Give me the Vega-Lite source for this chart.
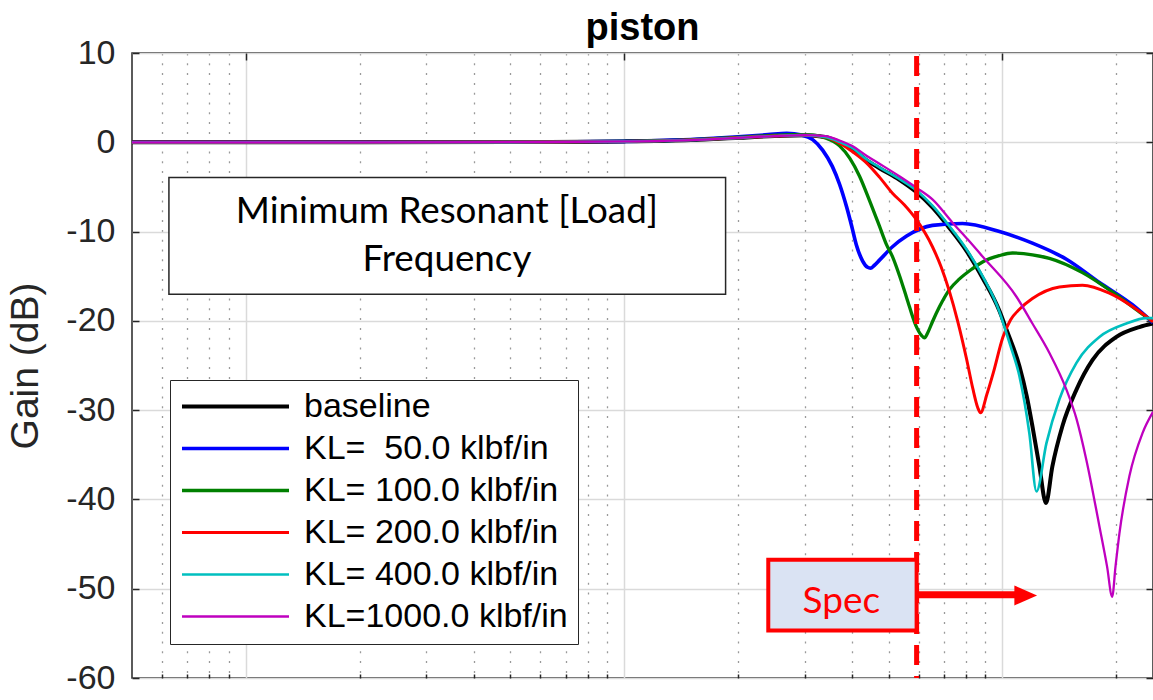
{
  "$schema": "https://vega.github.io/schema/vega-lite/v6.json",
  "width": 1021,
  "height": 625,
  "autosize": {"type": "none"},
  "padding": {"left": 132, "top": 53, "right": 0, "bottom": 22},
  "background": "white",
  "title": {"text": "piston", "font": "Liberation Sans", "fontSize": 38, "fontWeight": "bold", "color": "#000000", "offset": -12, "anchor": "middle"},
  "config": {"view": {"stroke": "#262626", "strokeWidth": 1.5}, "font": "Liberation Sans"},
  "layer": [
    {
      "data": {"values": [
        {"s": "baseline", "f": 5, "g": 0}, {"s": "baseline", "f": 20, "g": 0}, {"s": "baseline", "f": 50, "g": 0.02}, {"s": "baseline", "f": 100, "g": 0.1}, {"s": "baseline", "f": 150, "g": 0.25}, {"s": "baseline", "f": 200, "g": 0.5}, {"s": "baseline", "f": 250, "g": 0.7}, {"s": "baseline", "f": 300, "g": 0.8}, {"s": "baseline", "f": 340, "g": 0.6}, {"s": "baseline", "f": 371, "g": 0.0}, {"s": "baseline", "f": 400, "g": -0.7}, {"s": "baseline", "f": 437, "g": -2.0}, {"s": "baseline", "f": 473, "g": -2.9}, {"s": "baseline", "f": 534, "g": -4.2}, {"s": "baseline", "f": 593, "g": -5.6}, {"s": "baseline", "f": 653, "g": -7.3}, {"s": "baseline", "f": 724, "g": -9.6}, {"s": "baseline", "f": 804, "g": -12.2}, {"s": "baseline", "f": 886, "g": -15.2}, {"s": "baseline", "f": 982, "g": -18.9}, {"s": "baseline", "f": 1025, "g": -21.0}, {"s": "baseline", "f": 1109, "g": -25.1}, {"s": "baseline", "f": 1160, "g": -28.5}, {"s": "baseline", "f": 1200, "g": -31.8}, {"s": "baseline", "f": 1252, "g": -36.3}, {"s": "baseline", "f": 1303, "g": -40.4}, {"s": "baseline", "f": 1355, "g": -36.3}, {"s": "baseline", "f": 1440, "g": -31.8}, {"s": "baseline", "f": 1569, "g": -27.7}, {"s": "baseline", "f": 1729, "g": -24.4}, {"s": "baseline", "f": 2001, "g": -21.8}, {"s": "baseline", "f": 2301, "g": -20.7}, {"s": "baseline", "f": 2500, "g": -20.3},

        {"s": "KL=\u00a0\u00a050.0 klbf/in", "f": 5, "g": 0}, {"s": "KL=\u00a0\u00a050.0 klbf/in", "f": 20, "g": 0}, {"s": "KL=\u00a0\u00a050.0 klbf/in", "f": 50, "g": 0.02}, {"s": "KL=\u00a0\u00a050.0 klbf/in", "f": 100, "g": 0.1}, {"s": "KL=\u00a0\u00a050.0 klbf/in", "f": 150, "g": 0.3}, {"s": "KL=\u00a0\u00a050.0 klbf/in", "f": 200, "g": 0.6}, {"s": "KL=\u00a0\u00a050.0 klbf/in", "f": 240, "g": 0.85}, {"s": "KL=\u00a0\u00a050.0 klbf/in", "f": 269, "g": 1.0}, {"s": "KL=\u00a0\u00a050.0 klbf/in", "f": 295, "g": 0.8}, {"s": "KL=\u00a0\u00a050.0 klbf/in", "f": 315, "g": 0.3}, {"s": "KL=\u00a0\u00a050.0 klbf/in", "f": 335, "g": -0.9}, {"s": "KL=\u00a0\u00a050.0 klbf/in", "f": 355, "g": -2.7}, {"s": "KL=\u00a0\u00a050.0 klbf/in", "f": 371, "g": -4.7}, {"s": "KL=\u00a0\u00a050.0 klbf/in", "f": 387, "g": -7.2}, {"s": "KL=\u00a0\u00a050.0 klbf/in", "f": 400, "g": -9.5}, {"s": "KL=\u00a0\u00a050.0 klbf/in", "f": 411, "g": -11.5}, {"s": "KL=\u00a0\u00a050.0 klbf/in", "f": 427, "g": -13.3}, {"s": "KL=\u00a0\u00a050.0 klbf/in", "f": 440, "g": -14.0}, {"s": "KL=\u00a0\u00a050.0 klbf/in", "f": 448, "g": -14.1}, {"s": "KL=\u00a0\u00a050.0 klbf/in", "f": 458, "g": -13.8}, {"s": "KL=\u00a0\u00a050.0 klbf/in", "f": 473, "g": -13.2}, {"s": "KL=\u00a0\u00a050.0 klbf/in", "f": 512, "g": -11.7}, {"s": "KL=\u00a0\u00a050.0 klbf/in", "f": 558, "g": -10.5}, {"s": "KL=\u00a0\u00a050.0 klbf/in", "f": 653, "g": -9.3}, {"s": "KL=\u00a0\u00a050.0 klbf/in", "f": 784, "g": -9.1}, {"s": "KL=\u00a0\u00a050.0 klbf/in", "f": 982, "g": -10.0}, {"s": "KL=\u00a0\u00a050.0 klbf/in", "f": 1200, "g": -11.3}, {"s": "KL=\u00a0\u00a050.0 klbf/in", "f": 1476, "g": -13.1}, {"s": "KL=\u00a0\u00a050.0 klbf/in", "f": 1804, "g": -15.7}, {"s": "KL=\u00a0\u00a050.0 klbf/in", "f": 2205, "g": -18.2}, {"s": "KL=\u00a0\u00a050.0 klbf/in", "f": 2500, "g": -20.2},

        {"s": "KL= 100.0 klbf/in", "f": 5, "g": 0}, {"s": "KL= 100.0 klbf/in", "f": 20, "g": 0}, {"s": "KL= 100.0 klbf/in", "f": 50, "g": 0.02}, {"s": "KL= 100.0 klbf/in", "f": 100, "g": 0.1}, {"s": "KL= 100.0 klbf/in", "f": 150, "g": 0.28}, {"s": "KL= 100.0 klbf/in", "f": 200, "g": 0.55}, {"s": "KL= 100.0 klbf/in", "f": 240, "g": 0.75}, {"s": "KL= 100.0 klbf/in", "f": 280, "g": 0.85}, {"s": "KL= 100.0 klbf/in", "f": 315, "g": 0.8}, {"s": "KL= 100.0 klbf/in", "f": 340, "g": 0.5}, {"s": "KL= 100.0 klbf/in", "f": 371, "g": -0.4}, {"s": "KL= 100.0 klbf/in", "f": 395, "g": -1.8}, {"s": "KL= 100.0 klbf/in", "f": 419, "g": -3.8}, {"s": "KL= 100.0 klbf/in", "f": 445, "g": -6.5}, {"s": "KL= 100.0 klbf/in", "f": 473, "g": -9.4}, {"s": "KL= 100.0 klbf/in", "f": 493, "g": -11.4}, {"s": "KL= 100.0 klbf/in", "f": 512, "g": -12.8}, {"s": "KL= 100.0 klbf/in", "f": 535, "g": -15.0}, {"s": "KL= 100.0 klbf/in", "f": 558, "g": -17.4}, {"s": "KL= 100.0 klbf/in", "f": 590, "g": -20.5}, {"s": "KL= 100.0 klbf/in", "f": 610, "g": -21.6}, {"s": "KL= 100.0 klbf/in", "f": 622, "g": -21.9}, {"s": "KL= 100.0 klbf/in", "f": 635, "g": -21.3}, {"s": "KL= 100.0 klbf/in", "f": 653, "g": -20.1}, {"s": "KL= 100.0 klbf/in", "f": 682, "g": -18.4}, {"s": "KL= 100.0 klbf/in", "f": 724, "g": -16.5}, {"s": "KL= 100.0 klbf/in", "f": 770, "g": -15.3}, {"s": "KL= 100.0 klbf/in", "f": 830, "g": -14.2}, {"s": "KL= 100.0 klbf/in", "f": 886, "g": -13.4}, {"s": "KL= 100.0 klbf/in", "f": 980, "g": -12.7}, {"s": "KL= 100.0 klbf/in", "f": 1063, "g": -12.4}, {"s": "KL= 100.0 klbf/in", "f": 1200, "g": -12.6}, {"s": "KL= 100.0 klbf/in", "f": 1331, "g": -13.0}, {"s": "KL= 100.0 klbf/in", "f": 1627, "g": -14.6}, {"s": "KL= 100.0 klbf/in", "f": 2001, "g": -17.1}, {"s": "KL= 100.0 klbf/in", "f": 2300, "g": -19.0}, {"s": "KL= 100.0 klbf/in", "f": 2500, "g": -20.1},

        {"s": "KL= 200.0 klbf/in", "f": 5, "g": 0}, {"s": "KL= 200.0 klbf/in", "f": 20, "g": 0}, {"s": "KL= 200.0 klbf/in", "f": 50, "g": 0.02}, {"s": "KL= 200.0 klbf/in", "f": 100, "g": 0.1}, {"s": "KL= 200.0 klbf/in", "f": 150, "g": 0.27}, {"s": "KL= 200.0 klbf/in", "f": 200, "g": 0.5}, {"s": "KL= 200.0 klbf/in", "f": 250, "g": 0.7}, {"s": "KL= 200.0 klbf/in", "f": 300, "g": 0.8}, {"s": "KL= 200.0 klbf/in", "f": 340, "g": 0.6}, {"s": "KL= 200.0 klbf/in", "f": 371, "g": -0.1}, {"s": "KL= 200.0 klbf/in", "f": 400, "g": -1.0}, {"s": "KL= 200.0 klbf/in", "f": 437, "g": -2.3}, {"s": "KL= 200.0 klbf/in", "f": 473, "g": -3.9}, {"s": "KL= 200.0 klbf/in", "f": 512, "g": -5.7}, {"s": "KL= 200.0 klbf/in", "f": 550, "g": -7.0}, {"s": "KL= 200.0 klbf/in", "f": 593, "g": -8.7}, {"s": "KL= 200.0 klbf/in", "f": 653, "g": -11.7}, {"s": "KL= 200.0 klbf/in", "f": 689, "g": -14.0}, {"s": "KL= 200.0 klbf/in", "f": 724, "g": -16.7}, {"s": "KL= 200.0 klbf/in", "f": 761, "g": -20.0}, {"s": "KL= 200.0 klbf/in", "f": 804, "g": -24.3}, {"s": "KL= 200.0 klbf/in", "f": 835, "g": -27.6}, {"s": "KL= 200.0 klbf/in", "f": 860, "g": -29.7}, {"s": "KL= 200.0 klbf/in", "f": 875, "g": -30.3}, {"s": "KL= 200.0 klbf/in", "f": 910, "g": -28.2}, {"s": "KL= 200.0 klbf/in", "f": 946, "g": -25.8}, {"s": "KL= 200.0 klbf/in", "f": 1003, "g": -21.8}, {"s": "KL= 200.0 klbf/in", "f": 1050, "g": -19.9}, {"s": "KL= 200.0 klbf/in", "f": 1109, "g": -18.7}, {"s": "KL= 200.0 klbf/in", "f": 1200, "g": -17.5}, {"s": "KL= 200.0 klbf/in", "f": 1414, "g": -16.2}, {"s": "KL= 200.0 klbf/in", "f": 1627, "g": -16.0}, {"s": "KL= 200.0 klbf/in", "f": 1917, "g": -16.9}, {"s": "KL= 200.0 klbf/in", "f": 2205, "g": -18.4}, {"s": "KL= 200.0 klbf/in", "f": 2500, "g": -20.1},

        {"s": "KL= 400.0 klbf/in", "f": 5, "g": 0}, {"s": "KL= 400.0 klbf/in", "f": 20, "g": 0}, {"s": "KL= 400.0 klbf/in", "f": 50, "g": 0.02}, {"s": "KL= 400.0 klbf/in", "f": 100, "g": 0.1}, {"s": "KL= 400.0 klbf/in", "f": 150, "g": 0.25}, {"s": "KL= 400.0 klbf/in", "f": 200, "g": 0.5}, {"s": "KL= 400.0 klbf/in", "f": 250, "g": 0.7}, {"s": "KL= 400.0 klbf/in", "f": 300, "g": 0.8}, {"s": "KL= 400.0 klbf/in", "f": 340, "g": 0.6}, {"s": "KL= 400.0 klbf/in", "f": 371, "g": 0.05}, {"s": "KL= 400.0 klbf/in", "f": 400, "g": -0.6}, {"s": "KL= 400.0 klbf/in", "f": 437, "g": -1.9}, {"s": "KL= 400.0 klbf/in", "f": 473, "g": -2.8}, {"s": "KL= 400.0 klbf/in", "f": 534, "g": -4.1}, {"s": "KL= 400.0 klbf/in", "f": 593, "g": -5.4}, {"s": "KL= 400.0 klbf/in", "f": 653, "g": -7.1}, {"s": "KL= 400.0 klbf/in", "f": 724, "g": -9.4}, {"s": "KL= 400.0 klbf/in", "f": 804, "g": -12.0}, {"s": "KL= 400.0 klbf/in", "f": 886, "g": -15.0}, {"s": "KL= 400.0 klbf/in", "f": 982, "g": -19.0}, {"s": "KL= 400.0 klbf/in", "f": 1000, "g": -20.0}, {"s": "KL= 400.0 klbf/in", "f": 1050, "g": -22.8}, {"s": "KL= 400.0 klbf/in", "f": 1109, "g": -26.2}, {"s": "KL= 400.0 klbf/in", "f": 1178, "g": -32.6}, {"s": "KL= 400.0 klbf/in", "f": 1230, "g": -39.1}, {"s": "KL= 400.0 klbf/in", "f": 1307, "g": -33.7}, {"s": "KL= 400.0 klbf/in", "f": 1414, "g": -28.8}, {"s": "KL= 400.0 klbf/in", "f": 1569, "g": -24.7}, {"s": "KL= 400.0 klbf/in", "f": 1804, "g": -21.8}, {"s": "KL= 400.0 klbf/in", "f": 2126, "g": -20.3}, {"s": "KL= 400.0 klbf/in", "f": 2402, "g": -19.7}, {"s": "KL= 400.0 klbf/in", "f": 2500, "g": -19.7},

        {"s": "KL=1000.0 klbf/in", "f": 5, "g": 0}, {"s": "KL=1000.0 klbf/in", "f": 20, "g": 0}, {"s": "KL=1000.0 klbf/in", "f": 50, "g": 0.02}, {"s": "KL=1000.0 klbf/in", "f": 100, "g": 0.1}, {"s": "KL=1000.0 klbf/in", "f": 150, "g": 0.25}, {"s": "KL=1000.0 klbf/in", "f": 200, "g": 0.5}, {"s": "KL=1000.0 klbf/in", "f": 250, "g": 0.7}, {"s": "KL=1000.0 klbf/in", "f": 300, "g": 0.8}, {"s": "KL=1000.0 klbf/in", "f": 340, "g": 0.7}, {"s": "KL=1000.0 klbf/in", "f": 371, "g": 0.2}, {"s": "KL=1000.0 klbf/in", "f": 400, "g": -0.4}, {"s": "KL=1000.0 klbf/in", "f": 437, "g": -1.5}, {"s": "KL=1000.0 klbf/in", "f": 473, "g": -2.4}, {"s": "KL=1000.0 klbf/in", "f": 534, "g": -3.8}, {"s": "KL=1000.0 klbf/in", "f": 593, "g": -5.1}, {"s": "KL=1000.0 klbf/in", "f": 653, "g": -6.4}, {"s": "KL=1000.0 klbf/in", "f": 738, "g": -9.0}, {"s": "KL=1000.0 klbf/in", "f": 810, "g": -10.9}, {"s": "KL=1000.0 klbf/in", "f": 886, "g": -12.8}, {"s": "KL=1000.0 klbf/in", "f": 1089, "g": -17.3}, {"s": "KL=1000.0 klbf/in", "f": 1200, "g": -20.3}, {"s": "KL=1000.0 klbf/in", "f": 1331, "g": -23.6}, {"s": "KL=1000.0 klbf/in", "f": 1476, "g": -27.7}, {"s": "KL=1000.0 klbf/in", "f": 1570, "g": -31.0}, {"s": "KL=1000.0 klbf/in", "f": 1667, "g": -35.6}, {"s": "KL=1000.0 klbf/in", "f": 1804, "g": -43.0}, {"s": "KL=1000.0 klbf/in", "f": 1890, "g": -47.5}, {"s": "KL=1000.0 klbf/in", "f": 1950, "g": -50.9}, {"s": "KL=1000.0 klbf/in", "f": 1990, "g": -47.5}, {"s": "KL=1000.0 klbf/in", "f": 2038, "g": -43.8}, {"s": "KL=1000.0 klbf/in", "f": 2165, "g": -37.4}, {"s": "KL=1000.0 klbf/in", "f": 2344, "g": -32.6}, {"s": "KL=1000.0 klbf/in", "f": 2500, "g": -30.2}
      ]},
      "mark": {"type": "line", "clip": true, "interpolate": "monotone"},
      "encoding": {
        "x": {"field": "f", "type": "quantitative", "scale": {"type": "log", "domain": [5, 2500], "nice": false},
              "axis": {"orient": "bottom", "title": null, "labels": false, "domain": false, "values": [6, 7, 8, 9, 20, 30, 40, 50, 60, 70, 80, 90, 200, 300, 400, 500, 600, 700, 800, 900, 2000],
                       "grid": true, "gridDash": [2, 7.8], "gridColor": "#9a9a9a", "gridWidth": 1.3, "ticks": true, "tickSize": -4, "tickColor": "#262626", "tickWidth": 1.5}},
        "y": {"field": "g", "type": "quantitative", "scale": {"domain": [-60, 10], "nice": false},
              "axis": {"orient": "left", "values": [-60, -50, -40, -30, -20, -10, 0, 10], "labelExpr": "'' + datum.value", "title": "Gain (dB)", "titleFont": "Liberation Sans", "titleFontSize": 39, "titleFontWeight": "normal", "titleColor": "#262626", "titlePadding": 20,
                       "labelFont": "Liberation Sans", "labelFontSize": 34, "labelColor": "#262626", "labelPadding": 24, "labelFlush": false, "labelOverlap": false,
                       "tickSize": -7, "tickColor": "#262626", "tickWidth": 1.5, "grid": true, "gridColor": "#dadada", "gridWidth": 1.5, "domain": false}},
        "color": {"field": "s", "type": "nominal",
                  "scale": {"domain": ["baseline", "KL=\u00a0\u00a050.0 klbf/in", "KL= 100.0 klbf/in", "KL= 200.0 klbf/in", "KL= 400.0 klbf/in", "KL=1000.0 klbf/in"], "range": ["#000000", "#0000ff", "#008000", "#ff0000", "#00bfbf", "#bf00bf"]},
                  "legend": {"title": null, "orient": "none", "legendX": 38, "legendY": 327, "direction": "vertical", "symbolType": "stroke", "symbolSize": 11449, "symbolStrokeWidth": 2.5, "clipHeight": 33,
                             "labelFont": "Liberation Sans", "labelFontSize": 34, "labelColor": "#000000", "labelOffset": 13, "labelLimit": 0, "rowPadding": 7, "padding": 10,
                             "strokeColor": "#262626", "fillColor": "white"}},
        "strokeWidth": {"field": "s", "type": "nominal",
                        "scale": {"domain": ["baseline", "KL=\u00a0\u00a050.0 klbf/in", "KL= 100.0 klbf/in", "KL= 200.0 klbf/in", "KL= 400.0 klbf/in", "KL=1000.0 klbf/in"], "range": [4, 2.3, 2.3, 2.3, 2.3, 2.3]},
                        "legend": null}
      }
    },
    {
      "data": {"values": [{}]},
      "mark": {"type": "rect", "fill": "white", "stroke": "#262626", "strokeWidth": 1.5},
      "encoding": {
        "x": {"datum": 6.26, "type": "quantitative", "axis": null},
        "x2": {"datum": 185.4},
        "y": {"datum": -3.94, "type": "quantitative", "axis": null},
        "y2": {"datum": -17.02}
      }
    },
    {
      "data": {"values": [{}]},
      "mark": {"type": "text", "text": ["Minimum Resonant [Load]", "Frequency"], "font": "Lato", "fontSize": 36.8, "color": "#000000", "align": "center", "baseline": "middle", "lineHeight": 48},
      "encoding": {
        "x": {"datum": 34, "type": "quantitative", "axis": null},
        "y": {"datum": -7.8, "type": "quantitative", "axis": null}
      }
    },
    {
      "data": {"values": [{}]},
      "mark": {"type": "rule", "color": "#ff0000", "strokeWidth": 5, "strokeDash": [20, 11], "strokeDashOffset": -3},
      "encoding": {
        "x": {"datum": 593, "type": "quantitative",
              "axis": {"orient": "top", "title": null, "labels": false, "domain": false, "values": [10, 100, 1000], "grid": true, "gridColor": "#dadada", "gridWidth": 1.5,
                       "ticks": true, "tickSize": -7, "tickColor": "#262626", "tickWidth": 1.5}}
      }
    },
    {
      "data": {"values": [{}]},
      "mark": {"type": "rect", "fill": "#dae3f3", "stroke": "#ff0000", "strokeWidth": 4},
      "encoding": {
        "x": {"datum": 240.4, "type": "quantitative", "axis": null},
        "x2": {"datum": 593},
        "y": {"datum": -46.75, "type": "quantitative",
              "axis": {"orient": "right", "title": null, "labels": false, "domain": false, "grid": false, "values": [-60, -50, -40, -30, -20, -10, 0, 10],
                       "ticks": true, "tickSize": -7, "tickColor": "#262626", "tickWidth": 1.5}},
        "y2": {"datum": -54.67}
      }
    },
    {
      "data": {"values": [{}]},
      "mark": {"type": "text", "text": "Spec", "font": "Lato", "fontSize": 37, "color": "#ff0000", "align": "center", "baseline": "middle"},
      "encoding": {
        "x": {"datum": 375, "type": "quantitative", "axis": null},
        "y": {"datum": -51.5, "type": "quantitative", "axis": null}
      }
    },
    {
      "data": {"values": [{}]},
      "mark": {"type": "rule", "color": "#ff0000", "strokeWidth": 7},
      "encoding": {
        "x": {"datum": 593, "type": "quantitative", "axis": null},
        "x2": {"datum": 1100},
        "y": {"datum": -50.67, "type": "quantitative", "axis": null}
      }
    },
    {
      "data": {"values": [{}]},
      "mark": {"type": "point", "shape": "M-1,-0.88L1,0L-1,0.88Z", "size": 515, "filled": true, "fill": "#ff0000", "opacity": 1, "strokeWidth": 0},
      "encoding": {
        "x": {"datum": 1152, "type": "quantitative", "axis": null},
        "y": {"datum": -50.75, "type": "quantitative", "axis": null}
      }
    }
  ]
}
